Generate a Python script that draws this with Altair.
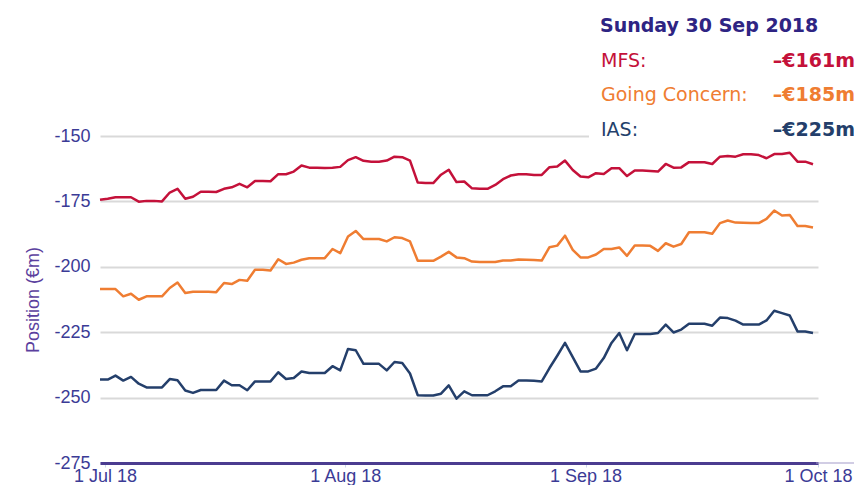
import altair as alt
import pandas as pd

# ---------------- data ----------------
start_date = "2018-06-30 08:30"
series_names = ["MFS", "Going Concern", "IAS"]
series_colors = ["#c4113a", "#ef7d32", "#243f6b"]

mfs = [-174.4, -174.0, -173.4, -173.4, -173.4, -175.1, -174.8, -174.8, -175.0, -171.6,
       -170.2, -174.0, -173.2, -171.3, -171.3, -171.4, -170.2, -169.6, -168.3, -169.6,
       -167.2, -167.2, -167.3, -164.6, -164.6, -163.6, -161.3, -162.1, -162.1, -162.2,
       -162.1, -161.8, -159.2, -158.1, -159.5, -159.8, -159.8, -159.4, -157.9, -158.1,
       -159.4, -167.8, -168.0, -168.0, -164.8, -162.9, -167.6, -167.4, -170.0, -170.2,
       -170.2, -168.7, -166.5, -165.1, -164.6, -164.6, -164.9, -164.9, -161.9, -161.7,
       -159.4, -163.0, -165.5, -165.8, -164.2, -164.5, -162.3, -162.3, -165.3, -163.2,
       -163.2, -163.4, -163.6, -160.7, -162.1, -162.0, -160.0, -160.0, -160.0, -160.7,
       -157.9, -157.6, -157.9, -157.0, -157.0, -157.3, -158.5, -156.9, -156.9, -156.4,
       -159.8, -159.8, -160.8]

going_concern = [-208.5, -208.5, -208.5, -211.3, -210.3, -212.6, -211.3, -211.3, -211.3, -208.1,
                 -206.0, -210.0, -209.5, -209.5, -209.5, -209.7, -206.2, -206.6, -205.0, -205.3,
                 -201.1, -201.1, -201.4, -197.1, -198.9, -198.4, -197.3, -196.7, -196.7, -196.7,
                 -193.2, -194.8, -188.4, -186.3, -189.4, -189.4, -189.4, -190.3, -188.7, -189.0,
                 -190.3, -197.7, -197.7, -197.7, -196.1, -194.3, -196.4, -196.7, -198.0, -198.2,
                 -198.2, -198.2, -197.6, -197.6, -197.2, -197.3, -197.4, -197.6, -192.5, -191.9,
                 -188.1, -193.5, -196.4, -196.4, -195.3, -193.2, -193.2, -192.6, -195.8, -191.9,
                 -191.9, -192.0, -193.9, -191.0, -192.3, -191.3, -186.8, -186.8, -186.8, -187.4,
                 -183.3, -182.3, -183.1, -183.2, -183.3, -183.3, -181.7, -178.5, -180.4, -180.2,
                 -184.4, -184.4, -185.0]

ias = [-243.1, -243.1, -241.6, -243.5, -242.1, -244.7, -246.1, -246.1, -246.1, -242.9,
       -243.4, -247.3, -248.2, -247.1, -247.1, -247.1, -243.5, -245.3, -245.3, -247.2,
       -243.8, -243.8, -243.8, -240.3, -242.9, -242.5, -240.0, -240.6, -240.6, -240.6,
       -238.0, -239.6, -231.4, -231.9, -237.1, -237.1, -237.1, -239.6, -236.4, -236.8,
       -240.8, -249.1, -249.2, -249.2, -248.5, -245.3, -250.4, -247.6, -249.1, -249.1,
       -249.1, -247.6, -245.7, -245.7, -243.5, -243.5, -243.6, -243.8, -238.7, -234.0,
       -229.1, -234.5, -240.0, -240.0, -238.9, -234.9, -229.1, -225.3, -231.9, -225.7,
       -225.7, -225.7, -225.3, -222.1, -225.1, -224.0, -221.8, -221.8, -221.8, -222.5,
       -219.4, -219.6, -220.6, -222.1, -222.1, -222.1, -220.5, -216.8, -217.7, -218.6,
       -224.7, -224.7, -225.3]

y_ticks = [-275, -250, -225, -200, -175, -150]
x_tick_dates = [(2018, 7, 1), (2018, 8, 1), (2018, 9, 1), (2018, 10, 1)]

# ---------------- build table ----------------
dates = pd.date_range(start_date, periods=len(mfs), freq="D")
df = pd.concat(
    [pd.DataFrame({"date": dates, "series": name, "value": vals})
     for name, vals in zip(series_names, [mfs, going_concern, ias])],
    ignore_index=True,
)

W, H = 718, 327
FONT = "Liberation Sans"
TT_FONT = "DejaVu Sans"

x_scale = alt.Scale(
    domain=[alt.DateTime(year=2018, month=6, date=30, hours=8, minutes=30),
            alt.DateTime(year=2018, month=10, date=1)],
    nice=False,
)
y_scale = alt.Scale(domain=[-275, -150], nice=False, zero=False)

x_axis = alt.Axis(
    values=[alt.DateTime(year=y, month=m, date=d) for (y, m, d) in x_tick_dates],
    format="%-d %b %y",
    title=None,
    grid=False,
    labelFont=FONT,
    labelFontSize=18,
    labelColor="#3b3b96",
    labelFlush=False,
    labelPadding=0,
    tickSize=4,
    tickColor="#ccd6eb",
    domainColor="#4b3c90",
    domainWidth=3,
)
y_axis = alt.Axis(
    values=y_ticks,
    labelExpr="'' + datum.value",
    title="Position (€m)",
    titleFont=FONT,
    titleFontSize=18,
    titleFontWeight="normal",
    titleColor="#5b3f9e",
    titleAngle=270,
    titleX=-67,
    titleY=H / 2,
    titleAlign="center",
    titleBaseline="middle",
    labelFont=FONT,
    labelFontSize=18,
    labelColor="#3b3b96",
    labelPadding=10,
    ticks=False,
    domain=False,
    grid=True,
    gridColor="#d9d9d9",
    gridWidth=2,
)

lines = alt.Chart(df).mark_line(strokeWidth=2.5, strokeJoin="round").encode(
    x=alt.X("date:T", scale=x_scale, axis=x_axis),
    y=alt.Y("value:Q", scale=y_scale, axis=y_axis),
    color=alt.Color("series:N",
                    scale=alt.Scale(domain=series_names, range=series_colors),
                    legend=None),
)

one = pd.DataFrame({"k": [0]})

# white tooltip background covering the top gridline
box = alt.Chart(one).mark_rect(color="white").encode(
    x=alt.value(489), x2=alt.value(762), y=alt.value(-40), y2=alt.value(8)
)

# thin continuation of the bottom axis line
ext = alt.Chart(one).mark_rule(color="#a39bc9", strokeWidth=1).encode(
    x=alt.value(716), x2=alt.value(758), y=alt.value(H)
)

# tooltip texts
last_date = dates[-1]
title_txt = f"{last_date.strftime('%A')} {last_date.day} {last_date.strftime('%b %Y')}"
texts = [
    alt.Chart(one).mark_text(align="left", baseline="alphabetic", font=TT_FONT,
                             fontSize=19, fontWeight="bold", color="#2e2483").encode(
        x=alt.value(500), y=alt.value(-104), text=alt.value(title_txt))
]
row_y = [-69, -35, 0]
for name, vals, col, yy in zip(series_names, [mfs, going_concern, ias], series_colors, row_y):
    texts.append(
        alt.Chart(one).mark_text(align="left", baseline="alphabetic", font=TT_FONT,
                                 fontSize=19, color=col).encode(
            x=alt.value(501), y=alt.value(yy), text=alt.value(f"{name}:"))
    )
    texts.append(
        alt.Chart(one).mark_text(align="right", baseline="alphabetic", font=TT_FONT,
                                 fontSize=19, fontWeight="bold", color=col).encode(
            x=alt.value(755), y=alt.value(yy), text=alt.value(f"–€{abs(round(vals[-1]))}m"))
    )

chart = alt.layer(box, lines, ext, *texts).properties(
    width=W,
    height=H,
    padding={"left": 92, "top": 128, "right": 36, "bottom": 22},
    autosize=alt.AutoSizeParams(type="none"),
    background="white",
).configure_view(stroke=None)

chart.save("out.html", embed_options={"renderer": "svg", "actions": False})
